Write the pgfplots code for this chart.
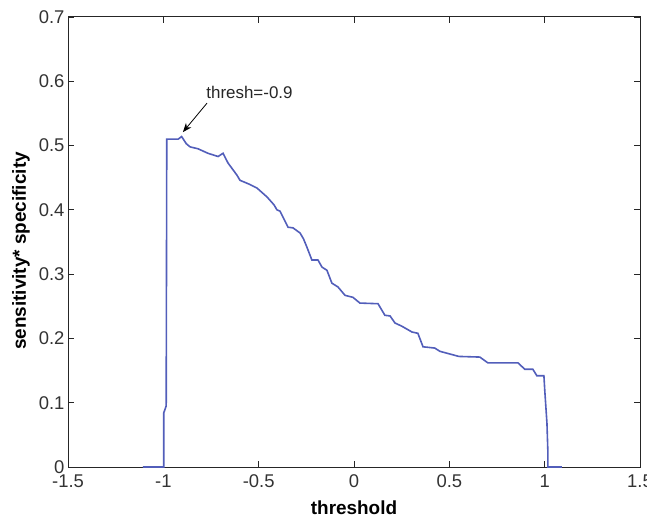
\documentclass[border=0pt]{standalone}
\usepackage{fontspec}
\setmainfont{Liberation Sans}
\usepackage{pgfplots}
\pgfplotsset{compat=1.18}
\usetikzlibrary{arrows.meta}
\definecolor{curve}{RGB}{82,94,186}
\begin{document}
\begin{tikzpicture}
\useasboundingbox (-68bp,-51bp) rectangle (579bp,467bp);
\begin{axis}[
  scale only axis,
  width=572bp, height=450bp,
  xmin=-1.5, xmax=1.5, ymin=0, ymax=0.7,
  xtick={-1.5,-1,-0.5,0,0.5,1,1.5},
  xticklabels={-1.5,-1,-0.5,0,0.5,1,1.5},
  ytick={0,0.1,0.2,0.3,0.4,0.5,0.6,0.7},
  yticklabels={0,0.1,0.2,0.3,0.4,0.5,0.6,0.7},
  tick align=inside,
  major tick length=6bp,
  axis line style={line width=1bp, black!85},
  every tick/.style={black!85, line width=0.8bp},
  tick label style={font=\fontsize{18.5}{21}\selectfont, text=black!80},
  xticklabel style={yshift=-4bp},
  xlabel={threshold},
  ylabel={sensitivity* specificity},
  label style={font=\fontsize{19}{22}\selectfont\bfseries},
  xlabel style={at={(axis description cs:0.5,-0.106)}, anchor=base},
  ylabel style={at={(axis description cs:-0.082,0.48)}, anchor=center, rotate=0},
]
\addplot[curve, line width=1.6bp] coordinates {
(-1.107,0) (-0.998,0) (-0.998,0.084) (-0.985,0.095) (-0.982,0.510)
(-0.922,0.510) (-0.904,0.514) (-0.880,0.503) (-0.860,0.498) (-0.818,0.495)
(-0.766,0.488) (-0.713,0.483) (-0.687,0.488) (-0.661,0.473) (-0.614,0.454)
(-0.598,0.446) (-0.550,0.440) (-0.509,0.434) (-0.456,0.420) (-0.420,0.408)
(-0.404,0.400) (-0.388,0.398) (-0.373,0.389) (-0.346,0.373) (-0.320,0.372)
(-0.283,0.364) (-0.265,0.355) (-0.247,0.342) (-0.221,0.322) (-0.189,0.322)
(-0.168,0.311) (-0.142,0.306) (-0.116,0.286) (-0.084,0.280) (-0.047,0.267)
(-0.006,0.264) (0.031,0.255) (0.126,0.254) (0.162,0.236) (0.189,0.235)
(0.215,0.224) (0.251,0.219) (0.304,0.210) (0.335,0.208) (0.362,0.187)
(0.424,0.185) (0.450,0.180) (0.500,0.176) (0.550,0.172) (0.660,0.171)
(0.702,0.162) (0.860,0.162) (0.896,0.152) (0.938,0.152) (0.959,0.142)
(0.996,0.142) (1.001,0.117) (1.012,0.068) (1.017,0.022) (1.017,0) (1.090,0)
};
\draw[-{Stealth[length=9bp,width=7bp]}, line width=0.8bp, black]
  (axis cs:-0.771,0.566) -- (axis cs:-0.897,0.521);
\node[anchor=west, inner sep=0pt, font=\fontsize{17}{20}\selectfont, text=black!85]
  at (axis cs:-0.775,0.582) {thresh=-0.9};
\end{axis}
\end{tikzpicture}
\end{document}
